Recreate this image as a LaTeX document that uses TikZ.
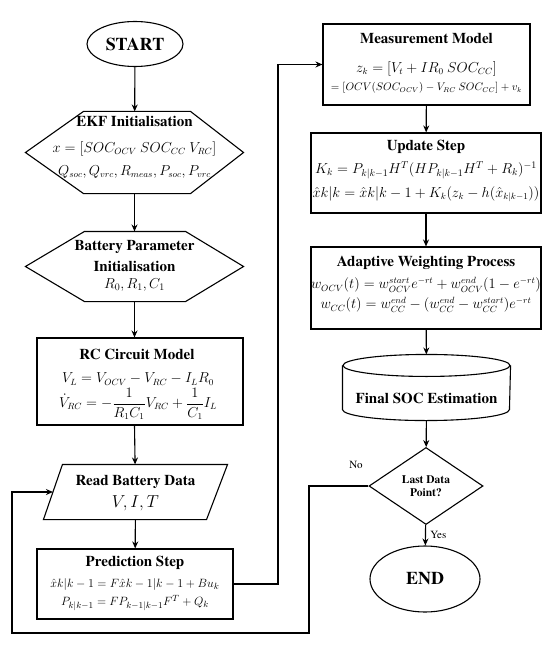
\documentclass[tikz,border=0pt]{standalone}
\usepackage{amsmath}
\usepackage{fontspec}
\setmainfont{texgyretermes}[Extension=.otf,UprightFont=*-regular,BoldFont=*-bold,ItalicFont=*-italic,BoldItalicFont=*-bolditalic]
\usetikzlibrary{shapes.geometric,arrows.meta,calc}
\begin{document}
\begin{tikzpicture}[x=1pt,y=-1pt,line width=1.1pt,
  >={Stealth[length=7pt,width=6pt]},
  term/.style={draw,ellipse,inner sep=0pt,font=\fontsize{18}{20}\selectfont\bfseries},
  frame/.style={draw,inner sep=0pt},
  ghost/.style={inner sep=0pt},
  ttl/.style={inner sep=0pt,font=\fontsize{15}{17}\selectfont\bfseries},
  eq/.style={inner sep=0pt,font=\fontsize{13.5}{16}\selectfont},
  lbl/.style={font=\fontsize{11}{13}\selectfont}]
\useasboundingbox (0,0) rectangle (550,650);

% ---------- left column ----------
\node[term,minimum width=96,minimum height=45] (start) at (135,44) {START};

\node[ghost,minimum width=217,minimum height=81] (ekf) at (134.5,152.5) {};
\draw (ekf.west) -- ($(ekf.north west)+(58,0)$) -- ($(ekf.north east)+(-53,0)$)
  -- (ekf.east) -- ($(ekf.south east)+(-53,0)$) -- ($(ekf.south west)+(58,0)$) -- cycle;
\node[ttl] (ekft) at (134.5,121) {EKF Initialisation};
\node[eq] (ekf1) at (134.5,149) {$x=[SOC_{OCV}\ SOC_{CC}\ V_{RC}]$};
\node[eq] (ekf2) at (134.5,172) {$Q_{soc},Q_{vrc},R_{meas},P_{soc},P_{vrc}$};

\node[ghost,minimum width=217,minimum height=69] (batt) at (134.5,266.5) {};
\draw (batt.west) -- ($(batt.north west)+(59,0)$) -- ($(batt.north east)+(-58,0)$)
  -- (batt.east) -- ($(batt.south east)+(-58,0)$) -- ($(batt.south west)+(59,0)$) -- cycle;
\node[ttl] (battt1) at (134.5,247) {Battery Parameter};
\node[ttl] (battt2) at (134.5,266) {Initialisation};
\node[eq,font=\fontsize{14.5}{16}\selectfont] (batt1) at (134.5,285) {$R_0,R_1,C_1$};

\node[frame,minimum width=206,minimum height=87] (rc) at (140,381.5) {};
\node[ttl] (rct) at (137,354) {RC Circuit Model};
\node[eq] (rc1) at (138,379) {$V_L=V_{OCV}-V_{RC}-I_LR_0$};
\node[eq] (rc2) at (138,404) {$\dot V_{RC}=-\dfrac{1}{R_1C_1}V_{RC}+\dfrac{1}{C_1}I_L$};

\node[ghost,minimum width=183,minimum height=54] (read) at (135.5,492) {};
\draw (read.south west) -- ($(read.north west)+(19,0)$) -- (read.north east)
  -- ($(read.south east)+(-21,0)$) -- cycle;
\coordinate (readin) at ($(read.west)+(9.5,0)$);
\node[ttl] (readt) at (135.5,482) {Read Battery Data};
\node[eq,font=\fontsize{16.5}{18}\selectfont] (read1) at (135.5,503) {$V,I,T$};

\node[frame,minimum width=196,minimum height=70] (pred) at (135,584) {};
\node[ttl] (predt) at (135,563) {Prediction Step};
\node[eq,font=\fontsize{13}{16}\selectfont] (pred1) at (135,584) {$\hat{x}k|k-1=F\hat{x}k-1|k-1+Bu_k$};
\node[eq,font=\fontsize{13}{16}\selectfont] (pred2) at (135,603) {$P_{k|k-1}=FP_{k-1|k-1}F^T+Q_k$};

% ---------- right column ----------
\node[frame,minimum width=207,minimum height=81] (meas) at (426.5,64.5) {};
\node[ttl] (meast) at (426.5,39) {Measurement Model};
\node[eq] (meas1) at (426.5,69) {$z_k=[V_t+IR_0\ SOC_{CC}]$};
\node[eq,font=\fontsize{10.5}{12}\selectfont] (meas2) at (426.5,88) {$=[OCV(SOC_{OCV})-V_{RC}\ SOC_{CC}]+v_k$};

\node[frame,minimum width=230,minimum height=80] (upd) at (426,173) {};
\node[ttl] (updt) at (426,147) {Update Step};
\node[eq,font=\fontsize{14}{16}\selectfont] (upd1) at (426,170) {$K_k=P_{k|k-1}H^T(HP_{k|k-1}H^T+R_k)^{-1}$};
\node[eq,font=\fontsize{13.5}{16}\selectfont] (upd2) at (426,194) {$\hat{x}k|k=\hat{x}k|k-1+K_k(z_k-h(\hat{x}_{k|k-1}))$};

\node[frame,minimum width=230,minimum height=82] (adapt) at (426,288) {};
\node[ttl] (adaptt) at (426,263) {Adaptive Weighting Process};
\node[eq,font=\fontsize{13.3}{16}\selectfont] (adapt1) at (426,285) {$w_{OCV}(t)=w_{OCV}^{start}e^{-rt}+w_{OCV}^{end}(1-e^{-rt})$};
\node[eq,font=\fontsize{13.3}{16}\selectfont] (adapt2) at (426,305) {$w_{CC}(t)=w_{CC}^{end}-(w_{CC}^{end}-w_{CC}^{start})e^{-rt}$};

\node[ghost,minimum width=167,minimum height=65] (cyl) at (426.5,387.5) {};
\draw ($(cyl.north)+(0,11)$) ellipse [x radius=83.5pt,y radius=11pt];
\draw ($(cyl.north west)+(0,11)$) -- ($(cyl.south west)+(0,-11)$)
  arc[start angle=180,end angle=360,x radius=83.5pt,y radius=11pt]
  -- ($(cyl.north east)+(0,11)$);
\node[ttl] (cylt) at (426.5,398) {Final SOC Estimation};

\node[draw,diamond,inner sep=0pt,minimum width=114,minimum height=77,align=center,
  font=\fontsize{11.5}{13}\selectfont\bfseries] (dec) at (426,486) {Last Data\\Point?};

\node[term,minimum width=110,minimum height=66] (end) at (425,579) {END};

% ---------- connectors ----------
\draw[->] (start) -- (ekf);
\draw[->] (ekf) -- (batt);
\draw[->] (batt.south) -- (batt.south |- rc.north);
\draw[->] (batt.south |- rc.south) -- (read);
\draw[->] (read) -- (pred);
\coordinate (vline) at (278,300);
\draw[->] (pred.east) -| (vline) |- (meas.west);
\draw[->] (meas) -- (upd);
\draw[->] (upd) -- (adapt);
\draw[->] (adapt) -- (cyl);
\draw[->] (cyl) -- (dec);
\draw[->] (dec) -- node[lbl,right,pos=0.5,xshift=1pt] {Yes} (end);
\coordinate (lp1) at (309,633);
\coordinate (lp2) at (12,633);
\draw[->] (dec.west) -| (lp1) -- (lp2) |- (readin);
\node[lbl] (no) at (356,465) {No};
\end{tikzpicture}
\end{document}
